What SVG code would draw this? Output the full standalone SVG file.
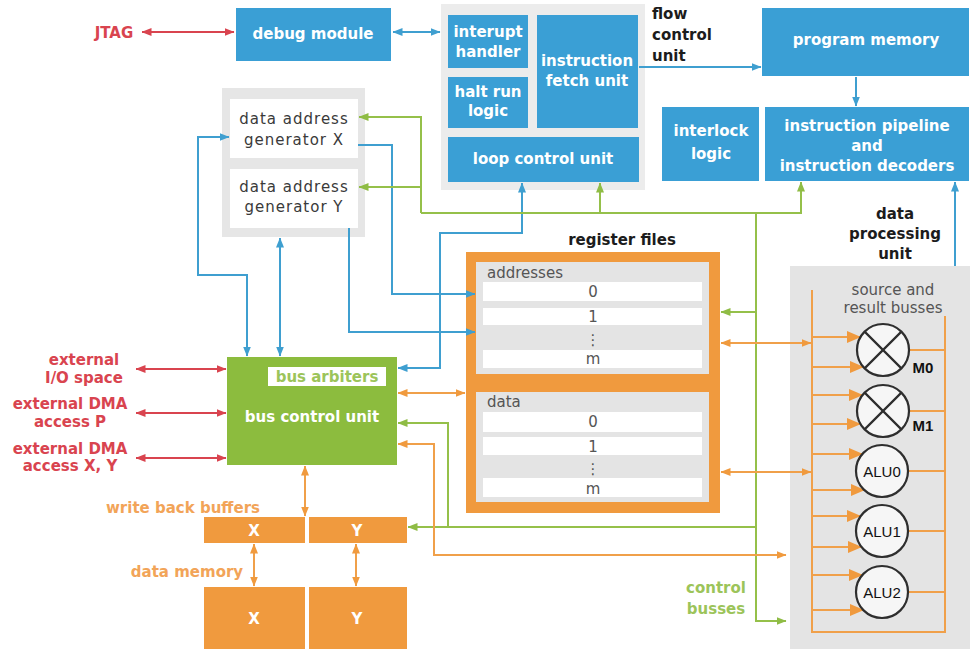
<svg xmlns="http://www.w3.org/2000/svg" width="974" height="649" viewBox="0 0 974 649">
  <style>
    text{font-family:"DejaVu Sans","Liberation Sans",sans-serif}
    .bx{fill:#3a9fd5}
    .wt{fill:#fff;font-weight:bold;font-size:15px;text-anchor:middle}
    .bk{fill:#1c1c1c;font-weight:bold;font-size:15px}
    .rd{fill:#d9444f;font-weight:bold;font-size:15px;text-anchor:middle}
    .gy{fill:#3a3a3a;font-size:15px;text-anchor:middle;letter-spacing:1px}
    .rg{fill:#555;font-size:15px}
    .og{fill:#f2a458;font-weight:bold;font-size:15px;text-anchor:middle}
    .gn{fill:#9cc45a;font-weight:bold;font-size:15px;text-anchor:middle}
    .ob{fill:#f09a3e}
    .cb{fill:none;stroke:#3f9fd0;stroke-width:2}
    .cg{fill:none;stroke:#95c04a;stroke-width:2}
    .co{fill:none;stroke:#f0a04a;stroke-width:2}
    .cr{fill:none;stroke:#d9444f;stroke-width:2}
    .fu{fill:#f6f6f6;stroke:#2e2e2e;stroke-width:2.2}
    .al{fill:#111;font-size:15px;text-anchor:middle;font-family:"Liberation Sans",sans-serif}
  </style>
  <defs>
    <marker id="ab" viewBox="0 0 10 8" refX="9.5" refY="4" markerWidth="10" markerHeight="8" markerUnits="userSpaceOnUse" orient="auto-start-reverse"><path d="M0,0 L10,4 L0,8 z" fill="#3f9fd0"/></marker>
    <marker id="ag" viewBox="0 0 10 8" refX="9.5" refY="4" markerWidth="10" markerHeight="8" markerUnits="userSpaceOnUse" orient="auto-start-reverse"><path d="M0,0 L10,4 L0,8 z" fill="#8fbc45"/></marker>
    <marker id="ao" viewBox="0 0 10 8" refX="9.5" refY="4" markerWidth="10" markerHeight="8" markerUnits="userSpaceOnUse" orient="auto-start-reverse"><path d="M0,0 L10,4 L0,8 z" fill="#f09a3e"/></marker>
    <marker id="ar" viewBox="0 0 10 8" refX="9.5" refY="4" markerWidth="10" markerHeight="8" markerUnits="userSpaceOnUse" orient="auto-start-reverse"><path d="M0,0 L10,4 L0,8 z" fill="#d9444f"/></marker>
    <marker id="aob" viewBox="0 0 14 12" refX="13" refY="6" markerWidth="14" markerHeight="12" markerUnits="userSpaceOnUse" orient="auto"><path d="M0,0 L14,6 L0,12 z" fill="#f09a3e"/></marker>
  </defs>

  <rect width="974" height="649" fill="#fff"/>

  <!-- debug module -->
  <g id="debug-module">
    <rect class="bx" x="236" y="8" width="155" height="53"/>
    <text class="wt" x="313" y="39">debug module</text>
  </g>
  <g id="jtag"><text class="rd" x="114" y="38">JTAG</text></g>

  <!-- flow control unit -->
  <g id="flow-control-unit">
    <rect x="441" y="4" width="204" height="186" fill="#ececec"/>
    <rect class="bx" x="448" y="15" width="80" height="53"/>
    <text class="wt" x="488" y="37">interupt</text>
    <text class="wt" x="488" y="57">handler</text>
    <rect class="bx" x="448" y="77" width="80" height="51"/>
    <text class="wt" x="488" y="97">halt run</text>
    <text class="wt" x="488" y="116">logic</text>
    <rect class="bx" x="537" y="15" width="101" height="113"/>
    <text class="wt" x="587" y="66">instruction</text>
    <text class="wt" x="587" y="86">fetch unit</text>
    <rect class="bx" x="448" y="137" width="191" height="45"/>
    <text class="wt" x="543" y="164">loop control unit</text>
    <text class="bk" x="652" y="19">flow</text>
    <text class="bk" x="652" y="40">control</text>
    <text class="bk" x="652" y="61">unit</text>
  </g>

  <!-- program memory -->
  <g id="program-memory">
    <rect class="bx" x="762" y="8" width="207" height="68"/>
    <text class="wt" x="866" y="45">program memory</text>
  </g>

  <!-- interlock logic -->
  <g id="interlock-logic">
    <rect class="bx" x="662" y="107" width="97" height="74"/>
    <text class="wt" x="711" y="136">interlock</text>
    <text class="wt" x="711" y="159">logic</text>
  </g>

  <!-- instruction pipeline -->
  <g id="instruction-pipeline">
    <rect class="bx" x="765" y="107" width="204" height="74"/>
    <text class="wt" x="867" y="131">instruction pipeline</text>
    <text class="wt" x="867" y="151">and</text>
    <text class="wt" x="867" y="171">instruction decoders</text>
  </g>

  <!-- data address generators -->
  <g id="data-address-generators">
    <rect x="222" y="88" width="143" height="149" fill="#e6e6e6"/>
    <rect x="230" y="99" width="128" height="59" fill="#fff"/>
    <text class="gy" x="294" y="124">data address</text>
    <text class="gy" x="294" y="145">generator X</text>
    <rect x="230" y="169" width="128" height="59" fill="#fff"/>
    <text class="gy" x="294" y="192">data address</text>
    <text class="gy" x="294" y="212">generator Y</text>
  </g>

  <!-- bus control unit -->
  <g id="bus-control-unit">
    <rect x="227" y="357" width="170" height="108" fill="#8cbc3e"/>
    <rect x="268" y="367" width="118" height="19" fill="#fff"/>
    <text class="gn" x="327" y="382">bus arbiters</text>
    <text class="wt" x="312" y="422">bus control unit</text>
  </g>

  <!-- external interfaces -->
  <g id="external-io">
    <text class="rd" x="84" y="365">external</text>
    <text class="rd" x="84" y="383">I/O space</text>
  </g>
  <g id="external-dma-p">
    <text class="rd" x="70" y="409">external DMA</text>
    <text class="rd" x="70" y="427">access P</text>
  </g>
  <g id="external-dma-xy">
    <text class="rd" x="70" y="454">external DMA</text>
    <text class="rd" x="70" y="471">access X, Y</text>
  </g>

  <!-- register files -->
  <g id="register-files">
    <text class="bk" x="622" y="245" text-anchor="middle">register files</text>
    <rect class="ob" x="466" y="252" width="254" height="261"/>
    <rect x="476" y="262" width="233" height="112" fill="#e4e4e4"/>
    <rect x="483" y="282" width="219" height="19" fill="#fff"/>
    <rect x="483" y="308" width="219" height="17" fill="#fff"/>
    <rect x="483" y="350" width="219" height="18" fill="#fff"/>
    <text class="rg" x="487" y="278">addresses</text>
    <text class="rg" x="593" y="297" text-anchor="middle" font-size="12">0</text>
    <text class="rg" x="593" y="322" text-anchor="middle" font-size="12">1</text>
    <text class="rg" x="593" y="345" text-anchor="middle" font-size="13">⋮</text>
    <text class="rg" x="593" y="364" text-anchor="middle" font-size="12">m</text>
    <rect x="476" y="392" width="233" height="110" fill="#e4e4e4"/>
    <rect x="483" y="412" width="219" height="20" fill="#fff"/>
    <rect x="483" y="437" width="219" height="18" fill="#fff"/>
    <rect x="483" y="478" width="219" height="19" fill="#fff"/>
    <text class="rg" x="487" y="407">data</text>
    <text class="rg" x="593" y="427" text-anchor="middle" font-size="12">0</text>
    <text class="rg" x="593" y="452" text-anchor="middle" font-size="12">1</text>
    <text class="rg" x="593" y="474" text-anchor="middle" font-size="13">⋮</text>
    <text class="rg" x="593" y="494" text-anchor="middle" font-size="12">m</text>
  </g>

  <!-- write back buffers -->
  <g id="write-back-buffers">
    <text class="og" x="183" y="513">write back buffers</text>
    <rect class="ob" x="204" y="517" width="101" height="26"/>
    <rect class="ob" x="309" y="517" width="98" height="26"/>
    <text class="wt" x="254" y="536">X</text>
    <text class="wt" x="357" y="536">Y</text>
  </g>

  <!-- data memory -->
  <g id="data-memory">
    <text class="og" x="187" y="577">data memory</text>
    <rect class="ob" x="204" y="587" width="101" height="62"/>
    <rect class="ob" x="309" y="587" width="98" height="62"/>
    <text class="wt" x="254" y="624">X</text>
    <text class="wt" x="357" y="624">Y</text>
  </g>

  <g id="control-busses-label">
    <text class="gn" x="716" y="593">control</text>
    <text class="gn" x="716" y="614">busses</text>
  </g>

  <!-- data processing unit -->
  <g id="data-processing-unit">
    <text class="bk" x="895" y="219" text-anchor="middle">data</text>
    <text class="bk" x="895" y="239" text-anchor="middle">processing</text>
    <text class="bk" x="895" y="259" text-anchor="middle">unit</text>
    <rect x="790" y="266" width="180" height="383" fill="#e4e4e4"/>
    <text class="rg" x="893" y="295" text-anchor="middle">source and</text>
    <text class="rg" x="893" y="313" text-anchor="middle">result busses</text>
    <path class="co" d="M812,290 V632 H945 V316"/>
    <g class="co">
      <path d="M812,337 H860" marker-end="url(#aob)"/>
      <path d="M812,367 H863" marker-end="url(#aob)"/>
      <path d="M812,395 H862" marker-end="url(#aob)"/>
      <path d="M812,424 H860" marker-end="url(#aob)"/>
      <path d="M812,454 H862" marker-end="url(#aob)"/>
      <path d="M812,490 H864" marker-end="url(#aob)"/>
      <path d="M812,516 H860" marker-end="url(#aob)"/>
      <path d="M812,547 H861" marker-end="url(#aob)"/>
      <path d="M812,575 H862" marker-end="url(#aob)"/>
      <path d="M812,610 H863" marker-end="url(#aob)"/>
      <path d="M909,350 H945"/>
      <path d="M909,411 H945"/>
      <path d="M908,471 H945"/>
      <path d="M908,531 H945"/>
      <path d="M908,592 H945"/>
    </g>
  </g>
  <g id="m0">
    <circle class="fu" cx="883" cy="350" r="26"/>
    <path d="M864.6,331.6 L901.4,368.4 M901.4,331.6 L864.6,368.4" stroke="#2e2e2e" stroke-width="2.2"/>
    <text class="al" x="923" y="373" font-weight="bold" font-size="14">M0</text>
  </g>
  <g id="m1">
    <circle class="fu" cx="883" cy="411" r="26"/>
    <path d="M864.6,392.6 L901.4,429.4 M901.4,392.6 L864.6,429.4" stroke="#2e2e2e" stroke-width="2.2"/>
    <text class="al" x="923" y="431" font-weight="bold" font-size="14">M1</text>
  </g>
  <g id="alu0">
    <circle class="fu" cx="882" cy="471" r="26"/>
    <text class="al" x="882" y="477">ALU0</text>
  </g>
  <g id="alu1">
    <circle class="fu" cx="882" cy="531" r="26"/>
    <text class="al" x="882" y="537">ALU1</text>
  </g>
  <g id="alu2">
    <circle class="fu" cx="882" cy="592" r="26"/>
    <text class="al" x="882" y="598">ALU2</text>
  </g>

  <!-- connectors, drawn above the blocks so arrowheads stay visible -->
  <g id="connectors">
    <!-- external (red) -->
    <path class="cr" d="M142,32 H234" marker-start="url(#ar)" marker-end="url(#ar)"/>
    <path class="cr" d="M136,369 H226" marker-start="url(#ar)" marker-end="url(#ar)"/>
    <path class="cr" d="M136,413 H226" marker-start="url(#ar)" marker-end="url(#ar)"/>
    <path class="cr" d="M136,458 H226" marker-start="url(#ar)" marker-end="url(#ar)"/>
    <!-- address / instruction paths (blue) -->
    <path class="cb" d="M393,32 H440" marker-start="url(#ab)" marker-end="url(#ab)"/>
    <path class="cb" d="M639,67 H761" marker-end="url(#ab)"/>
    <path class="cb" d="M856,77 V106" marker-end="url(#ab)"/>
    <path class="cb" d="M955,266 V182" marker-end="url(#ab)"/>
    <path class="cb" d="M247,356 V275 H198 V137 H229" marker-start="url(#ab)" marker-end="url(#ab)"/>
    <path class="cb" d="M280,238 V356" marker-start="url(#ab)" marker-end="url(#ab)"/>
    <path class="cb" d="M358,145 H392 V294 H475" marker-end="url(#ab)"/>
    <path class="cb" d="M349,228 V332 H475" marker-end="url(#ab)"/>
    <path class="cb" d="M398,368 H440 V233 H522 V183" marker-start="url(#ab)" marker-end="url(#ab)"/>
    <!-- control busses (green) -->
    <path class="cg" d="M421,213 V117 H359" marker-end="url(#ag)"/>
    <path class="cg" d="M421,187 H359" marker-end="url(#ag)"/>
    <path class="cg" d="M421,213 H801 V182" marker-end="url(#ag)"/>
    <path class="cg" d="M600,213 V183" marker-end="url(#ag)"/>
    <path class="cg" d="M756,213 V621 H786" marker-end="url(#ag)"/>
    <path class="cg" d="M756,312 H721" marker-end="url(#ag)"/>
    <path class="cg" d="M756,527 H408" marker-end="url(#ag)"/>
    <path class="cg" d="M448,527 V423 H398" marker-end="url(#ag)"/>
    <!-- data paths (orange) -->
    <path class="co" d="M398,393 H465" marker-start="url(#ao)" marker-end="url(#ao)"/>
    <path class="co" d="M398,444 H434 V555 H786" marker-start="url(#ao)" marker-end="url(#ao)"/>
    <path class="co" d="M721,343 H811" marker-start="url(#ao)" marker-end="url(#ao)"/>
    <path class="co" d="M721,472 H811" marker-start="url(#ao)" marker-end="url(#ao)"/>
    <path class="co" d="M305,466 V516" marker-start="url(#ao)" marker-end="url(#ao)"/>
    <path class="co" d="M254,544 V586" marker-start="url(#ao)" marker-end="url(#ao)"/>
    <path class="co" d="M356,544 V586" marker-start="url(#ao)" marker-end="url(#ao)"/>
  </g>
</svg>
